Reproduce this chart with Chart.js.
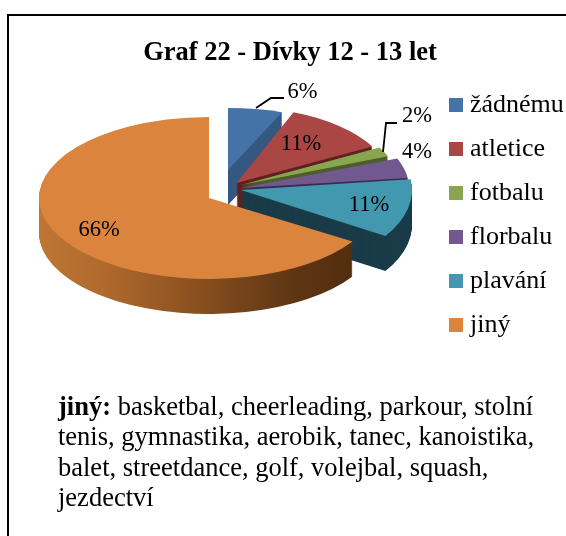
<!DOCTYPE html>
<html><head><meta charset="utf-8">
<style>
html,body{margin:0;padding:0;background:#fff;width:566px;height:536px;overflow:hidden}
#frame{position:absolute;left:7px;top:14px;width:559px;height:522px;border-left:2px solid #000;border-top:2px solid #000;box-sizing:border-box}
#c{position:absolute;left:0;top:0}
#note{position:absolute;left:58px;top:391px;width:500px;font:26.5px/30.4px "Liberation Serif",serif;color:#000;white-space:nowrap}
</style></head><body>
<canvas id="c" width="566" height="536"></canvas>
<div id="frame"></div>
<div id="note"><b>jiný:</b> basketbal, cheerleading, parkour, stolní<br>tenis, gymnastika, aerobik, tanec, kanoistika,<br>balet, streetdance, golf, volejbal, squash,<br>jezdectví</div>
<script src="https://cdn.jsdelivr.net/npm/chart.js@4"></script>
<script>
const categories = ['žádnému','atletice','fotbalu','florbalu','plavání','jiný'];
const percentages = [6,11,2,4,11,66];
const topColors = ['#4572A7','#AA4643','#89A54E','#71588F','#4198AF','#DB843D'];
const sideColors = ['#345880','#5E2321','#4d5e2a','#3b2b52','#1a3c49','#8a5020'];
const chartTitle = 'Graf 22 - Dívky 12 - 13 let';
const FONT = '"Liberation Serif", serif';

// 3D projection of each exploded slice: apex and ellipse radii
const sliceApexX = [228,236.5,241,241,241,209];
const sliceApexY = [170,183,185,188,190,198];
const sliceRadX  = [147,155,158,168,171,170];
const sliceRadY  = [62,76,78,80,86,81];
const depth = 35;
const BASE_R = 100;

// label placement
const labelX = [302.5,301,417,417,369,99];
const labelY = [92,144,116,152,205,230];

const pie3d = {
  id:'pie3d',
  afterLayout(chart){
    chart.legend.left = 437;
    chart.legend.top = 74;
  },
  beforeDatasetsDraw(chart){
    const ctx = chart.ctx;
    const arcs = chart.getDatasetMeta(0).data;
    arcs.forEach((arc,i)=>{
      const place = (dy)=>{
        ctx.translate(sliceApexX[i], sliceApexY[i]+dy);
        ctx.scale(sliceRadX[i]/BASE_R, sliceRadY[i]/BASE_R);
        ctx.translate(-arc.x, -arc.y);
      };
      let side = sideColors[i];
      if(i===5){
        const u = v=>arc.x + (v - sliceApexX[i]) * BASE_R / sliceRadX[i];
        const g = ctx.createLinearGradient(u(40),0,u(353),0);
        g.addColorStop(0,'#bd7634');
        g.addColorStop(0.2,'#b06a2d');
        g.addColorStop(0.5,'#8a5020');
        g.addColorStop(0.8,'#5f3614');
        g.addColorStop(1,'#522e0f');
        side = g;
      }
      const wall = Object.create(arc,{options:{value:Object.assign({},arc.options,{backgroundColor:side})}});
      for(let k=depth;k>=1;k--){
        ctx.save(); place(k); wall.draw(ctx); ctx.restore();
      }
      ctx.save(); place(0); arc.draw(ctx); ctx.restore();
    });
    return false;
  },
  afterDraw(chart){
    const ctx = chart.ctx;
    ctx.save();
    ctx.strokeStyle='#000'; ctx.lineWidth=1.8;
    ctx.beginPath(); ctx.moveTo(256,108); ctx.lineTo(271,98); ctx.lineTo(284,98); ctx.stroke();
    ctx.beginPath(); ctx.moveTo(383,152); ctx.lineTo(386,123); ctx.lineTo(397,123); ctx.stroke();
    ctx.fillStyle='#000'; ctx.font='22.5px '+FONT; ctx.textAlign='center'; ctx.textBaseline='middle';
    percentages.forEach((v,i)=>ctx.fillText(v+'%',labelX[i],labelY[i]));
    ctx.restore();
  }
};

new Chart(document.getElementById('c'),{
  type:'pie',
  data:{labels:categories,datasets:[{data:percentages,backgroundColor:topColors,borderWidth:0,radius:BASE_R}]},
  plugins:[pie3d],
  options:{
    responsive:false,animation:false,
    layout:{padding:{left:14,top:0,right:0,bottom:0}},
    plugins:{
      tooltip:{enabled:false},
      title:{display:true,text:chartTitle,color:'#000',font:{family:FONT,size:26.5,weight:'bold'},padding:{top:37,bottom:10}},
      legend:{position:'right',align:'start',
        labels:{boxWidth:2,boxHeight:2,padding:18,color:'#000',font:{family:FONT,size:26},
          generateLabels:()=>categories.map((t,i)=>({text:t,fillStyle:topColors[i],strokeStyle:topColors[i],lineWidth:12,hidden:false,index:i}))
        }}
    }
  }
});
</script>
</body></html>
